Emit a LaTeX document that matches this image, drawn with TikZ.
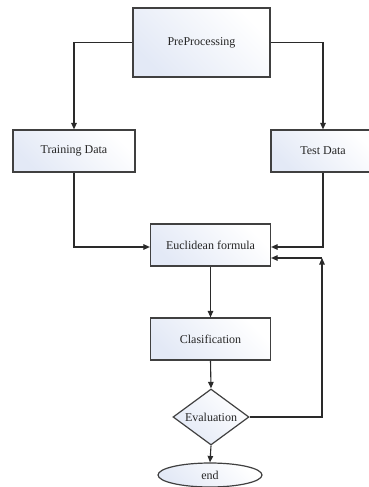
\documentclass[tikz,border=0pt]{standalone}
\usepackage{fontspec}
\setmainfont{Liberation Serif}
\usetikzlibrary{shapes.geometric,arrows.meta}
\definecolor{bluefill}{HTML}{E3E9F6}
\definecolor{edge}{HTML}{404040}
\definecolor{conn}{HTML}{2A2A2A}
\tikzset{
  box/.style={draw=edge, line width=1.2pt, top color=bluefill, bottom color=white, shading angle=135,
    inner sep=0pt, font=\fontsize{12}{14}\selectfont, text=black!85},
  conn/.style={draw=conn, line width=1.1pt, -{Triangle[length=6.5pt,width=5.5pt]}},
}
\begin{document}
\begin{tikzpicture}[x=1pt,y=-1pt]
\useasboundingbox (0,0) rectangle (369,487);
\node[box, rectangle, minimum width=137pt, minimum height=69pt] (pre) at (201.5,42.5) {PreProcessing};
\node[box, rectangle, minimum width=122pt, minimum height=42pt] (train) at (74,151) {Training Data};
\node[box, rectangle, minimum width=104pt, minimum height=42pt] (test) at (323,151) {Test Data};
\node[box, rectangle, minimum width=120pt, minimum height=42pt] (eucl) at (210.5,245) {Euclidean formula};
\node[box, rectangle, minimum width=120pt, minimum height=42pt] (clas) at (210.5,339) {Clasification};
\node[box, diamond, minimum width=76pt, minimum height=56pt, shape aspect=1.357] (eval) at (211,417) {Evaluation};
\node[box, ellipse, minimum width=104pt, minimum height=24pt] (end) at (210,475) {end};
\coordinate (corner) at (322,258);

\draw[conn] (pre.west) -| (train.north);
\draw[conn] (pre.east) -| (test.north);
\draw[conn] (train.south) |- ([yshift=-2pt]eucl.west);
\draw[conn] (test.south) |- ([yshift=-2pt]eucl.east);
\draw[conn] (eucl.south) -- (clas.north);
\draw[conn] (clas.south) -- (eval.north);
\draw[conn] (eval.south) -- (end.north);
\draw[conn] (eval.east) -| (corner);
\draw[conn] (corner) -- (corner -| eucl.east);
\end{tikzpicture}
\end{document}
